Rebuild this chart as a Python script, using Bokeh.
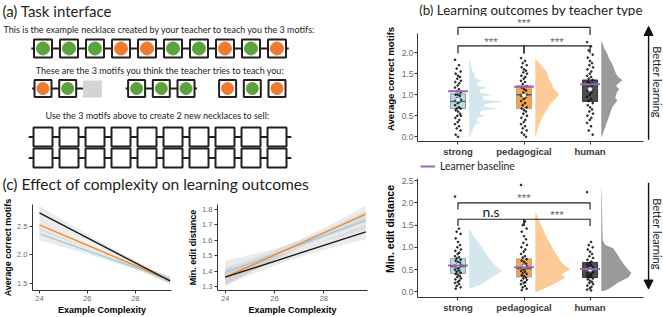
import math
from bokeh.plotting import figure
from bokeh.layouts import row, column
from bokeh.models import Range1d, FixedTicker, Arrow, NormalHead, Legend, LegendItem, PrintfTickFormatter
from bokeh.embed import file_html
from bokeh.resources import INLINE
from bokeh.core.properties import value

# ===================== DATA =====================
# (a) task interface
example_necklace = ["G", "G", "G", "O", "O", "G", "G", "O", "G", "O"]
motifs = [["O", "G", "-"], ["G", "G", "G"], ["O", "G", "O"]]
motif_linked = [True, True, False]
empty_necklace_slots = 10
empty_necklace_count = 2

text_a_title = "(a) Task interface"
text_a1 = "This is the example necklace created by your teacher to teach you the 3 motifs:"
text_a2 = "These are the 3 motifs you think the teacher tries to teach you:"
text_a3 = "Use the 3 motifs above to create 2 new necklaces to sell:"
text_b_title = "(b) Learning outcomes by teacher type"
text_c_title = "(c) Effect of complexity on learning outcomes"

# (b) learning outcomes by teacher type
teachers = ["strong", "pedagogical", "human"]

acc_q1 = [0.67, 0.67, 0.84]
acc_median = [0.84, 1.00, 1.15]
acc_q3 = [1.02, 1.21, 1.35]
acc_mean = [0.88, 0.98, 1.13]
acc_baseline = [1.08, 1.19, 1.25]

acc_points_strong = [1.83, 1.70, 1.62, 1.55, 1.50, 1.45, 1.42, 1.38, 1.33, 1.30, 1.27, 1.22, 1.17, 1.13,
                     1.08, 1.05, 1.00, 1.00, 0.97, 0.92, 0.88, 0.85, 0.83, 0.80, 0.75, 0.70, 0.67, 0.67,
                     0.63, 0.60, 0.55, 0.50, 0.50, 0.45, 0.40, 0.35, 0.30, 0.25, 0.20, 0.15, 0.05, 0.00]
acc_points_pedagogical = [1.87, 1.80, 1.75, 1.70, 1.65, 1.60, 1.57, 1.53, 1.50, 1.45, 1.42, 1.38, 1.33, 1.30,
                          1.25, 1.20, 1.17, 1.13, 1.10, 1.05, 1.00, 0.97, 0.93, 0.90, 0.85, 0.80, 0.75, 0.70,
                          0.67, 0.63, 0.60, 0.55, 0.50, 0.45, 0.40, 0.35, 0.30, 0.25, 0.20, 0.15, 0.10, 0.05, 0.00]
acc_points_human = [2.25, 2.15, 2.05, 1.95, 1.88, 1.80, 1.75, 1.70, 1.65, 1.60, 1.55, 1.50, 1.45, 1.42,
                    1.38, 1.35, 1.30, 1.27, 1.22, 1.18, 1.13, 1.10, 1.05, 1.00, 0.95, 0.90, 0.85, 0.80,
                    0.75, 0.70, 0.65, 0.60, 0.55, 0.50, 0.45, 0.40, 0.33, 0.25, 0.15, 0.05]

acc_dens_strong_y = [0.0, 0.2, 0.3, 0.33, 0.38, 0.45, 0.5, 0.55, 0.62, 0.67, 0.72, 0.78, 0.83, 0.88,
                     0.95, 1.0, 1.05, 1.12, 1.17, 1.22, 1.28, 1.33, 1.38, 1.45, 1.5, 1.55, 1.7, 1.88]
acc_dens_strong = [1, 4, 6, 11, 7, 9, 16, 10, 12, 30, 14, 16, 35, 15,
                   13, 24, 11, 11, 18, 9, 8, 13, 7, 5, 6, 3, 2, 0]
acc_dens_pedagogical_y = [0.0, 0.15, 0.3, 0.45, 0.55, 0.65, 0.75, 0.85, 0.95, 1.0, 1.05, 1.15, 1.25,
                          1.35, 1.45, 1.55, 1.65, 1.75, 1.86]
acc_dens_pedagogical = [0.5, 2, 4, 7, 9, 12, 14, 18, 22, 24, 22, 18, 17, 14, 13, 11, 8, 4, 0]
acc_dens_human_y = [0.0, 0.1, 0.3, 0.5, 0.7, 0.86, 0.93, 1.0, 1.07, 1.13, 1.2, 1.25, 1.3, 1.35,
                    1.42, 1.49, 1.6, 1.73, 1.85, 1.97, 2.1, 2.2, 2.3]
acc_dens_human = [0.5, 2, 5, 8, 11, 16, 14, 15, 16, 18, 15, 16, 19, 21, 17, 15, 13, 11, 8, 6, 3, 1.5, 0]

acc_tests = [("strong", "human", "***"), ("strong", "pedagogical", "***"), ("pedagogical", "human", "***")]
acc_test_level = [2.60, 2.16, 2.16]

edit_q1 = [0.41, 0.33, 0.32]
edit_median = [0.57, 0.52, 0.48]
edit_q3 = [0.75, 0.74, 0.66]
edit_mean = [0.60, 0.57, 0.50]
edit_baseline = [0.59, 0.55, 0.51]

edit_points_strong = [2.14, 1.42, 1.35, 1.30, 1.20, 1.12, 1.05, 1.00, 0.95, 0.92, 0.88, 0.85, 0.80, 0.78,
                      0.75, 0.72, 0.70, 0.67, 0.65, 0.62, 0.60, 0.58, 0.55, 0.53, 0.50, 0.48, 0.45, 0.43,
                      0.40, 0.38, 0.35, 0.33, 0.30, 0.28, 0.25, 0.22, 0.20, 0.17, 0.13, 0.10, 0.07]
edit_points_pedagogical = [2.40, 1.58, 1.50, 1.42, 1.35, 1.25, 1.18, 1.10, 1.05, 1.00, 0.95, 0.90, 0.85, 0.80,
                           0.77, 0.73, 0.70, 0.67, 0.63, 0.60, 0.57, 0.55, 0.52, 0.50, 0.47, 0.45, 0.42, 0.40,
                           0.37, 0.35, 0.32, 0.30, 0.27, 0.25, 0.22, 0.20, 0.17, 0.13, 0.10, 0.07, 0.04]
edit_points_human = [2.24, 1.12, 1.05, 1.00, 0.95, 0.90, 0.85, 0.80, 0.76, 0.72, 0.68, 0.65, 0.62, 0.60,
                     0.57, 0.55, 0.52, 0.50, 0.48, 0.46, 0.44, 0.42, 0.40, 0.38, 0.36, 0.34, 0.32, 0.30,
                     0.28, 0.25, 0.22, 0.20, 0.17, 0.14, 0.11, 0.08, 0.05, 0.03]

edit_dens_strong_y = [0.09, 0.15, 0.21, 0.3, 0.36, 0.42, 0.47, 0.55, 0.7, 0.85, 1.0, 1.2, 1.41]
edit_dens_strong = [3, 10, 15, 21, 25, 30, 33, 28, 22, 17, 13, 6, 0]
edit_dens_pedagogical_y = [0.0, 0.08, 0.17, 0.25, 0.32, 0.4, 0.45, 0.51, 0.6, 0.7, 0.85, 1.0, 1.2, 1.45, 1.65, 1.8]
edit_dens_pedagogical = [1, 10, 18, 25, 30, 26, 31, 35, 29, 25, 21, 17, 12, 7, 3, 0]
edit_dens_human_y = [0.02, 0.06, 0.13, 0.21, 0.32, 0.38, 0.43, 0.5, 0.55, 0.7, 0.81, 0.98, 1.05, 1.15, 1.5, 2.0, 2.42]
edit_dens_human = [2, 7, 12, 17, 27, 29, 30, 27, 25, 20, 17, 12, 4, 1.5, 1, 0.7, 0]

edit_tests = [("strong", "human", "***"), ("strong", "pedagogical", "n.s"), ("pedagogical", "human", "***")]
edit_test_level = [2.00, 1.63, 1.63]

# (c) effect of complexity
acc_fit_x = [24, 29.45]
acc_fit_strong = [2.37, 1.56]
acc_fit_pedagogical = [2.53, 1.55]
acc_fit_human = [2.74, 1.54]
acc_band_x = [24, 25, 26, 27, 28, 29, 29.45]
acc_lo_strong = [2.26, 2.14, 2.015, 1.88, 1.74, 1.575, 1.495]
acc_hi_strong = [2.48, 2.30, 2.125, 1.96, 1.82, 1.685, 1.625]
acc_lo_pedagogical = [2.43, 2.275, 2.12, 1.955, 1.775, 1.58, 1.49]
acc_hi_pedagogical = [2.63, 2.425, 2.22, 2.025, 1.845, 1.68, 1.61]
acc_lo_human = [2.62, 2.43, 2.24, 2.035, 1.82, 1.585, 1.475]
acc_hi_human = [2.86, 2.61, 2.36, 2.125, 1.90, 1.695, 1.605]

edit_fit_x = [24, 29.7]
edit_fit_strong = [1.39, 1.73]
edit_fit_pedagogical = [1.36, 1.77]
edit_fit_human = [1.36, 1.655]
edit_band_x = [24, 25, 26, 27, 28, 29, 29.7]
edit_lo_strong = [1.315, 1.395, 1.474, 1.539, 1.593, 1.638, 1.67]
edit_hi_strong = [1.465, 1.505, 1.544, 1.599, 1.663, 1.738, 1.79]
edit_lo_pedagogical = [1.30, 1.387, 1.474, 1.551, 1.618, 1.675, 1.715]
edit_hi_pedagogical = [1.42, 1.477, 1.534, 1.601, 1.678, 1.765, 1.825]
edit_lo_human = [1.31, 1.372, 1.434, 1.49, 1.537, 1.579, 1.605]
edit_hi_human = [1.41, 1.452, 1.494, 1.54, 1.597, 1.659, 1.705]

complexity_ticks = [24, 26, 28]

# ===================== STYLE =====================
TITLE_FONT = "Lato"
GG_FONT = "Liberation Sans"
INK = "#231f20"
bead_colors = {"G": "#5BA33C", "O": "#EF7B2F"}
line_col = {"strong": "#9DCBE0", "pedagogical": "#F28A2E", "human": "#1A1A1A"}
box_fill = {"strong": "#A9D3E3", "pedagogical": "#F5952B", "human": "#2E2E2E"}
box_line = {"strong": "#8C8C8C", "pedagogical": "#9A9A9A", "human": "#1A1A1A"}
dens_fill = {"strong": "#D4E6EE", "pedagogical": "#FDCB97", "human": "#9A9A9A"}
BASE_COL = "#9467BD"
jitter_pattern = [-0.045, 0.015, -0.02, 0.04, -0.035, 0.0, 0.03, -0.01, 0.045, -0.04, 0.02, -0.005]


def txt(p, x, y, s, size, font=TITLE_FONT, align="left", color=INK, style="normal", angle=0.0):
    p.text(x=[x], y=[y], text=[s], text_font=value(font), text_font_size=size, text_align=align,
           text_baseline="middle", text_color=color, text_font_style=style, angle=angle)


def blank_fig(w, h, xr, yr):
    p = figure(width=w, height=h, x_range=Range1d(*xr), y_range=Range1d(*yr),
               x_axis_type=None, y_axis_type=None, toolbar_location=None, output_backend="svg",
               min_border=0)
    p.grid.visible = False
    p.outline_line_color = None
    return p


# ===================== PANEL (a) + (c) title =====================
fa = blank_fig(368, 195, (-1.635, 12.519), (195, 0))

txt(fa, -1.56, 10, text_a_title, "15px")
txt(fa, 4.48, 29, text_a1, "9px", align="center")
txt(fa, 4.5, 70, text_a2, "9px", align="center")
txt(fa, 4.4, 115, text_a3, "9px", align="center")
txt(fa, -1.56, 183, text_c_title, "15.6px")

# example necklace
nx = list(range(len(example_necklace)))
fa.line([nx[0] - 0.45, nx[-1] + 0.45], [48, 48], line_color=INK, line_width=2)
fa.rect(nx, [48] * len(nx), width=18, height=18, width_units="screen", height_units="screen",
        fill_color="white", line_color=INK, line_width=2)
fa.scatter(nx, [48] * len(nx), size=13, marker="circle",
           color=[bead_colors[b] for b in example_necklace])

# motifs
motif_start = [0.0, 3.6, 7.1]
motif_pitch = 0.95
for k, m in enumerate(motifs):
    xs = [motif_start[k] + j * motif_pitch for j in range(len(m))]
    if motif_linked[k]:
        end = xs[-1] + (0.42 if m[-1] != "-" else 0.0)
        fa.line([xs[0] - 0.42, end], [88, 88], line_color=INK, line_width=2)
    for xb, b in zip(xs, m):
        if b == "-":
            fa.rect([xb], [88.5], width=19, height=17, width_units="screen", height_units="screen",
                    fill_color="#D4D4D4", line_color=None)
        else:
            fa.rect([xb], [88], width=17, height=17, width_units="screen", height_units="screen",
                    fill_color="white", line_color=INK, line_width=2)
            fa.scatter([xb], [88], size=12, marker="circle", color=bead_colors[b])

# empty necklaces
ex = list(range(empty_necklace_slots))
for r in range(empty_necklace_count):
    yy = 136.5 + r * 21
    fa.line([-0.55, empty_necklace_slots - 1 + 0.55], [yy, yy], line_color=INK, line_width=2)
    fa.rect(ex, [yy] * len(ex), width=19, height=19, width_units="screen", height_units="screen",
            fill_color="white", line_color=INK, line_width=2)


# ===================== PANEL (c) =====================
def make_c(width, bl, br, xr, yr, yticks, ylabel, band_x, bands, fit_x, fits):
    p = figure(width=width, height=122, x_range=Range1d(*xr), y_range=Range1d(*yr),
               toolbar_location=None, output_backend="svg",
               min_border_left=bl, min_border_right=br, min_border_top=9, min_border_bottom=22)
    p.grid.visible = False
    p.outline_line_color = None
    for key in ["human", "pedagogical", "strong"]:
        lo, hi = bands[key]
        p.varea(x=band_x, y1=lo, y2=hi, fill_color="#BDBDBD", fill_alpha=0.3)
    for key in ["strong", "pedagogical", "human"]:
        p.line(fit_x, fits[key], line_color=line_col[key], line_width=1.4)
    p.xaxis.ticker = FixedTicker(ticks=complexity_ticks)
    p.yaxis.ticker = FixedTicker(ticks=yticks)
    p.yaxis.formatter = PrintfTickFormatter(format="%.1f")
    p.xaxis.axis_label = "Example Complexity"
    p.yaxis.axis_label = ylabel
    for ax in p.axis:
        ax.axis_line_color = "#333333"
        ax.major_tick_line_color = "#333333"
        ax.major_tick_out = 3
        ax.major_tick_in = 0
        ax.minor_tick_out = 0
        ax.minor_tick_in = 0
        ax.major_label_text_font = GG_FONT
        ax.major_label_text_font_size = "7.5px"
        ax.major_label_text_color = "#6b6b6b"
        ax.major_label_standoff = 2
        ax.axis_label_text_font = GG_FONT
        ax.axis_label_text_font_size = "9px"
        ax.axis_label_text_font_style = "bold"
        ax.axis_label_text_color = "black"
        ax.axis_label_standoff = 1
    return p


fc1 = make_c(185, 26, 14, (23.71, 29.51), (1.372, 2.888), [1.5, 2.0, 2.5], "Average correct motifs",
             acc_band_x,
             {"strong": (acc_lo_strong, acc_hi_strong),
              "pedagogical": (acc_lo_pedagogical, acc_hi_pedagogical),
              "human": (acc_lo_human, acc_hi_human)},
             acc_fit_x,
             {"strong": acc_fit_strong, "pedagogical": acc_fit_pedagogical, "human": acc_fit_human})
fc2 = make_c(183, 30, 1, (23.69, 29.77), (1.2736, 1.8325), [1.3, 1.4, 1.5, 1.6, 1.7, 1.8],
             "Min. edit distance", edit_band_x,
             {"strong": (edit_lo_strong, edit_hi_strong),
              "pedagogical": (edit_lo_pedagogical, edit_hi_pedagogical),
              "human": (edit_lo_human, edit_hi_human)},
             edit_fit_x,
             {"strong": edit_fit_strong, "pedagogical": edit_fit_pedagogical, "human": edit_fit_human})


# ===================== PANEL (b) =====================
XR = (0.387, 4.112)
X_AXIS_END = 3.81
BOX_W = 0.227
BASE_W = 0.30
DENS_OFF = 0.17
DENS_SCALE = 1 / 66.2


def make_b(height, bb, yr, ytop, q1, med, q3, mean, base, pts, dens, tests, levels, drop,
           ylabel, yfont, arrow_up):
    p = figure(width=295, height=height, x_range=Range1d(*XR), y_range=Range1d(*yr),
               toolbar_location=None, output_backend="svg",
               min_border_left=49, min_border_right=0, min_border_top=0, min_border_bottom=bb)
    p.grid.visible = False
    p.outline_line_color = None
    xpos = [1, 2, 3]
    # densities
    for i, t in enumerate(teachers):
        ys, ws = dens[t]
        b0 = xpos[i] + DENS_OFF
        px = [b0] + [b0 + w * DENS_SCALE for w in ws] + [b0]
        py = [ys[0]] + list(ys) + [ys[-1]]
        p.patch(px, py, fill_color=dens_fill[t], line_color=None)
    # boxes
    p.vbar(x=xpos, bottom=q1, top=q3, width=BOX_W,
           fill_color=[box_fill[t] for t in teachers], fill_alpha=0.85,
           line_color=[box_line[t] for t in teachers], line_width=0.8)
    # jittered points
    for i, t in enumerate(teachers):
        vals = pts[t]
        jx = [xpos[i] + jitter_pattern[k % len(jitter_pattern)] for k in range(len(vals))]
        p.scatter(jx, vals, size=1.8, marker="circle", color="#111111", alpha=0.8)
    # medians
    p.segment(x0=[x - BOX_W / 2 for x in xpos], x1=[x + BOX_W / 2 for x in xpos], y0=med, y1=med,
              line_color="#555555", line_width=1.4)
    # means
    p.scatter(xpos, mean, size=4.5, marker="circle", fill_color="white", line_color="#777777",
              line_width=0.6)
    # baselines
    br = p.segment(x0=[x - BASE_W / 2 for x in xpos], x1=[x + BASE_W / 2 for x in xpos], y0=base, y1=base,
                   line_color=BASE_COL, line_width=2)
    # significance brackets
    idx = {t: i + 1 for i, t in enumerate(teachers)}
    for (a, b, lab), lv in zip(tests, levels):
        xa, xb = idx[a], idx[b]
        p.line([xa, xa, xb, xb], [lv - drop, lv, lv, lv - drop], line_color="#222222", line_width=1.2)
        if lab == "n.s":
            txt(p, (xa + xb) / 2, lv + 0.17, lab, "14px", font=TITLE_FONT, align="center", color="#222222")
        else:
            txt(p, (xa + xb) / 2, lv + 0.1, lab, "11.5px", font=GG_FONT, align="center", color="#6a6a6a")
    # better learning arrow
    ax_x = 3.886
    if arrow_up:
        y0, y1 = yr[0] + 0.04, ytop + 0.17
    else:
        y0, y1 = ytop - 0.09, yr[0] + 0.19
    p.add_layout(Arrow(end=NormalHead(size=9, fill_color="#111111", line_color="#111111"),
                       x_start=ax_x, y_start=y0, x_end=ax_x, y_end=y1,
                       line_color="#111111", line_width=1.4))
    txt(p, 4.017, 1.30, "Better learning", "11px", font=TITLE_FONT, align="center", color="#222222",
        angle=-math.pi / 2)
    # axes
    p.xaxis.ticker = FixedTicker(ticks=xpos)
    p.xaxis.major_label_overrides = {1: teachers[0], 2: teachers[1], 3: teachers[2]}
    p.xaxis.bounds = (XR[0], X_AXIS_END)
    p.yaxis.ticker = FixedTicker(ticks=[0.0, 0.5, 1.0, 1.5, 2.0] + ([2.5] if ytop > 2.5 else []))
    p.yaxis.formatter = PrintfTickFormatter(format="%.1f")
    p.yaxis.bounds = (yr[0], ytop)
    p.yaxis.axis_label = ylabel
    for ax in p.axis:
        ax.axis_line_color = "#333333"
        ax.major_tick_line_color = "#333333"
        ax.major_tick_out = 3
        ax.major_tick_in = 0
        ax.minor_tick_out = 0
        ax.minor_tick_in = 0
        ax.major_label_text_font = GG_FONT
        ax.axis_label_text_font = GG_FONT
        ax.axis_label_text_font_style = "bold"
        ax.axis_label_text_color = "black"
        ax.axis_label_text_font_size = yfont
        ax.axis_label_standoff = 3
    p.yaxis.major_label_text_font_size = "8.5px"
    p.yaxis.major_label_text_color = "#6b6b6b"
    p.yaxis.major_label_standoff = 1
    p.xaxis.major_label_text_font_size = "9.5px"
    p.xaxis.major_label_text_font_style = "bold"
    p.xaxis.major_label_text_color = "#3a3a3a"
    p.xaxis.major_label_standoff = 1
    return p, br


fbt = blank_fig(295, 16, (0, 295), (16, 0))
txt(fbt, 2, 9, text_b_title, "13.4px")

fb1, _ = make_b(144, 19, (-0.112, 2.857), 2.45, acc_q1, acc_median, acc_q3, acc_mean, acc_baseline,
                {"strong": acc_points_strong, "pedagogical": acc_points_pedagogical, "human": acc_points_human},
                {"strong": (acc_dens_strong_y, acc_dens_strong),
                 "pedagogical": (acc_dens_pedagogical_y, acc_dens_pedagogical),
                 "human": (acc_dens_human_y, acc_dens_human)},
                acc_tests, acc_test_level, 0.18, "Average correct motifs", "9.6px", True)

fb2, base_r = make_b(157, 20, (-0.128, 2.95), 2.54, edit_q1, edit_median, edit_q3, edit_mean, edit_baseline,
                     {"strong": edit_points_strong, "pedagogical": edit_points_pedagogical,
                      "human": edit_points_human},
                     {"strong": (edit_dens_strong_y, edit_dens_strong),
                      "pedagogical": (edit_dens_pedagogical_y, edit_dens_pedagogical),
                      "human": (edit_dens_human_y, edit_dens_human)},
                     edit_tests, edit_test_level, 0.15, "Min. edit distance", "10.5px", False)
leg = Legend(items=[LegendItem(label="Learner baseline", renderers=[base_r])], location=(3, 125),
             glyph_width=15, glyph_height=10, label_height=10, label_standoff=5, padding=0, margin=0,
             spacing=0, border_line_alpha=0, background_fill_alpha=0,
             label_text_font=TITLE_FONT, label_text_font_size="10.5px", label_text_color=INK)
fb2.add_layout(leg)

layout = row(column(fa, row(fc1, fc2)), column(fbt, fb1, fb2))
open("out.html", "w").write(file_html(layout, INLINE))
